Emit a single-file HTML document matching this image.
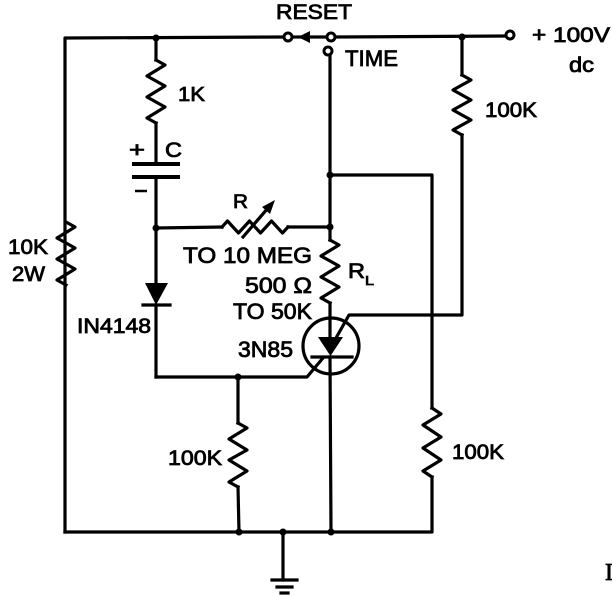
<!DOCTYPE html>
<html>
<head>
<meta charset="utf-8">
<style>
html,body{margin:0;padding:0;background:#fff;}
svg{display:block;}
text{font-family:"Liberation Sans",Arial,sans-serif;fill:#000;stroke:#000;stroke-width:0.8px;}
</style>
</head>
<body>
<svg width="612" height="596" viewBox="0 0 612 596" xmlns="http://www.w3.org/2000/svg">
<g fill="none" stroke="#000" stroke-width="3.2" stroke-linejoin="round" stroke-linecap="square">
  <polyline points="65,532 65,38 284,37"/>
  <line x1="292" y1="37" x2="300" y2="37"/>
  <line x1="308" y1="37" x2="327" y2="37"/>
  <line x1="335" y1="37" x2="506" y2="36"/>
  <polyline points="65,532 432,532 432,477"/>
  <line x1="156" y1="38" x2="156" y2="60"/>
  <polyline points="156,60 165,65 147,76 165,86 147,97 165,107 147,118 156,123"/>
  <line x1="156" y1="123" x2="156" y2="164"/>
  <line x1="134" y1="164" x2="178" y2="164" stroke-width="4"/>
  <line x1="134" y1="177" x2="178" y2="177" stroke-width="4"/>
  <line x1="156" y1="177" x2="156" y2="283"/>
  <line x1="143" y1="305" x2="170" y2="305"/>
  <line x1="156" y1="305" x2="156" y2="377"/>
  <polyline points="156,377 307,377 323,358"/>
  <polyline points="66,222 75,227 57,238 75,248 57,259 75,269 57,280 66,285"/>
  <line x1="156" y1="228" x2="222" y2="227"/>
  <polyline points="222,227 227.5,221 238.5,233 249.5,221 260.5,233 271.5,221 282.5,233 288,227"/>
  <line x1="288" y1="227" x2="330" y2="227"/>
  <line x1="243" y1="237" x2="268" y2="208"/>
  <line x1="330" y1="55" x2="330" y2="240"/>
  <polyline points="330,240 339,245 321,256 339,266 321,277 339,287 321,298 330,303"/>
  <line x1="330" y1="303" x2="330" y2="337"/>
  <line x1="330" y1="357" x2="331" y2="532"/>
  <circle cx="331" cy="346" r="28"/>
  <line x1="312" y1="357" x2="352" y2="357"/>
  <polyline points="336,338 349,315 462,315 462,135"/>
  <line x1="462" y1="37" x2="462" y2="75"/>
  <polyline points="462,75 471,80 453,90 471,100 453,110 471,120 453,130 462,135"/>
  <polyline points="330,175 432,175 432,408"/>
  <polyline points="432,408 441,414 423,425 441,437 423,448 441,460 423,471 432,477"/>
  <line x1="238" y1="377" x2="238" y2="423"/>
  <polyline points="238,423 247,428 229,439 247,450 229,460 247,471 229,482 238,487"/>
  <line x1="238" y1="487" x2="239" y2="532"/>
  <line x1="283" y1="532" x2="283" y2="580"/>
  <line x1="272" y1="580" x2="297" y2="580"/>
  <line x1="277" y1="587" x2="292" y2="587"/>
  <line x1="281" y1="593" x2="288" y2="593"/>
</g>
<g fill="#000" stroke="none">
  <polygon points="145,283 168,283 156,305"/>
  <polygon points="318,337 343,337 330.5,356"/>
  <polygon points="275,200 262,207 270,214"/>
  <polygon points="298,37 310,31 310,43"/>
  <circle cx="156" cy="38" r="3.5"/>
  <circle cx="462" cy="37" r="3.5"/>
  <circle cx="156" cy="228" r="3.5"/>
  <circle cx="330" cy="227" r="3.5"/>
  <circle cx="330" cy="175" r="3.5"/>
  <circle cx="238" cy="377" r="3.5"/>
  <circle cx="239" cy="532" r="3.5"/>
  <circle cx="283" cy="532" r="3.5"/>
  <circle cx="331" cy="532" r="3.5"/>
</g>
<g fill="#fff" stroke="#000" stroke-width="3">
  <circle cx="288" cy="37" r="4"/>
  <circle cx="331" cy="37" r="4"/>
  <circle cx="328" cy="51" r="4"/>
  <circle cx="510" cy="35" r="4"/>
</g>
<text x="276" y="19" font-size="21" textLength="76" lengthAdjust="spacingAndGlyphs">RESET</text>
<text x="345" y="66" font-size="22" textLength="53" lengthAdjust="spacingAndGlyphs">TIME</text>
<text x="532" y="42" font-size="21" textLength="78" lengthAdjust="spacingAndGlyphs">+ 100V</text>
<text x="569" y="72" font-size="21" textLength="25" lengthAdjust="spacingAndGlyphs">dc</text>
<text x="485" y="117" font-size="21" textLength="52" lengthAdjust="spacingAndGlyphs">100K</text>
<text x="178" y="101" font-size="20" textLength="27" lengthAdjust="spacingAndGlyphs">1K</text>
<text x="129" y="157" font-size="21" textLength="16" lengthAdjust="spacingAndGlyphs">+</text>
<text x="165" y="157" font-size="21" textLength="17" lengthAdjust="spacingAndGlyphs">C</text>
<line x1="135" y1="191" x2="147" y2="191" stroke="#000" stroke-width="2.5"/>
<text x="233" y="208" font-size="19" textLength="15" lengthAdjust="spacingAndGlyphs">R</text>
<text x="183" y="263" font-size="22" textLength="129" lengthAdjust="spacingAndGlyphs">TO 10 MEG</text>
<text x="245" y="293" font-size="22" textLength="67" lengthAdjust="spacingAndGlyphs">500 Ω</text>
<text x="233" y="319" font-size="22" textLength="79" lengthAdjust="spacingAndGlyphs">TO 50K</text>
<text x="238" y="357" font-size="22" textLength="55" lengthAdjust="spacingAndGlyphs">3N85</text>
<text x="77" y="333" font-size="21" textLength="74" lengthAdjust="spacingAndGlyphs">IN4148</text>
<text x="8" y="254" font-size="21" textLength="40" lengthAdjust="spacingAndGlyphs">10K</text>
<text x="12" y="281" font-size="21" textLength="33" lengthAdjust="spacingAndGlyphs">2W</text>
<text x="348" y="278" font-size="21" textLength="17" lengthAdjust="spacingAndGlyphs">R</text>
<text x="365" y="285" font-size="13" textLength="9" lengthAdjust="spacingAndGlyphs">L</text>
<text x="168" y="465" font-size="21" textLength="54" lengthAdjust="spacingAndGlyphs">100K</text>
<text x="452" y="459" font-size="21" textLength="52" lengthAdjust="spacingAndGlyphs">100K</text>
<text x="605" y="580" font-size="24" style="font-family:'Liberation Serif',serif">I</text>
</svg>
</body>
</html>
